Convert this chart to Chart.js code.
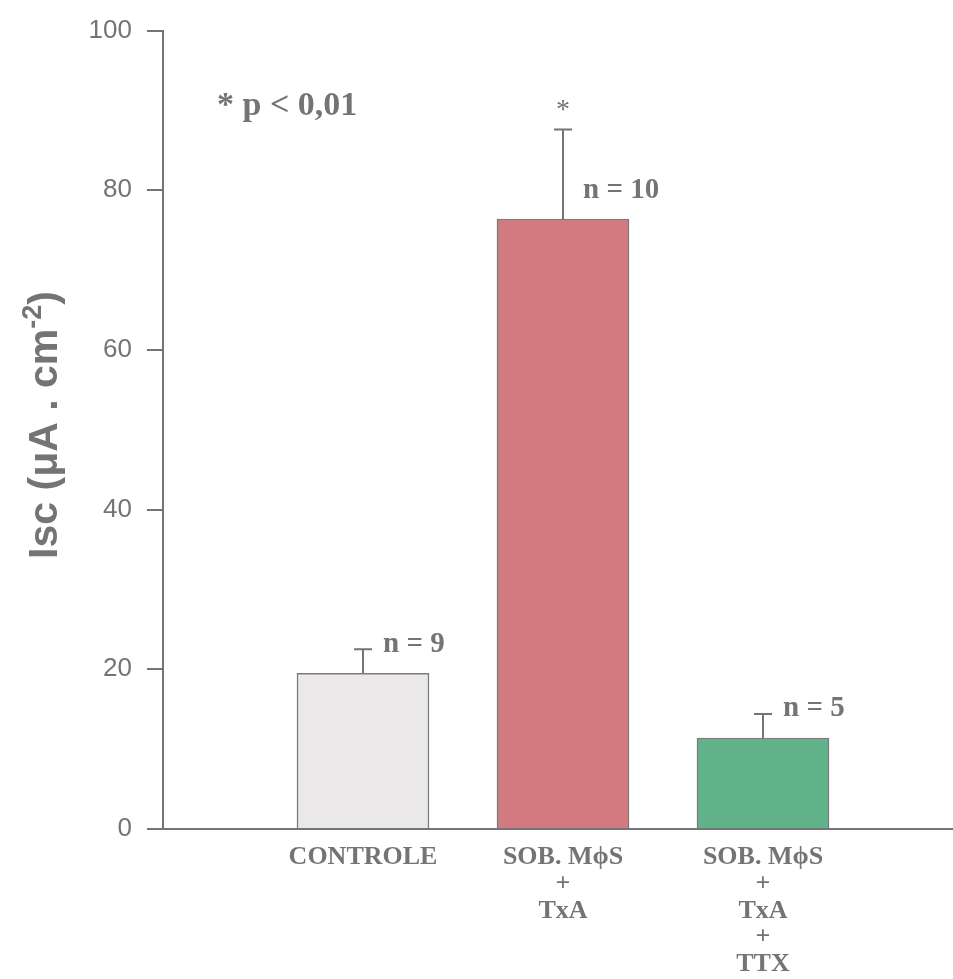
<!DOCTYPE html>
<html lang="pt">
<head>
  <meta charset="UTF-8" />
  <title>Isc</title>
  <script src="https://cdn.jsdelivr.net/npm/chart.js@4"></script>
  <style>
    html, body { margin: 0; padding: 0; background: #fff; }
    #wrap { width: 953px; height: 979px; position: relative; }
  </style>
</head>
<body>
  <div id="wrap"><canvas id="chart"></canvas></div>
  <script>
    // data
    const groups = [
      ['CONTROLE'],
      ['SOB. M\u03D5S', '+', 'TxA'],
      ['SOB. M\u03D5S', '+', 'TxA', '+', 'TTX']
    ];
    const means = [19.5, 76.4, 11.4];
    const sem = [3.0, 11.2, 3.0];
    const nLabels = ['n = 9', 'n = 10', 'n = 5'];
    const starred = [false, true, false];
    const yTicks = [0, 20, 40, 60, 80, 100];
    const barColors = ['#ebe8ea', '#d27a80', '#60b388'];

    const grey = '#747474';

    const extras = {
      id: 'extras',
      afterDatasetsDraw(chart) {
        const ctx = chart.ctx;
        const x = chart.scales.x, y = chart.scales.y;
        ctx.save();
        ctx.strokeStyle = grey;
        ctx.lineWidth = 2;
        ctx.fillStyle = grey;
        means.forEach((m, i) => {
          const px = x.getPixelForValue(i + 1);
          const top = y.getPixelForValue(m);
          const eTop = y.getPixelForValue(m + sem[i]);
          // error bar, upper half only
          ctx.beginPath();
          ctx.moveTo(px, top);
          ctx.lineTo(px, eTop);
          ctx.moveTo(px - 9, eTop);
          ctx.lineTo(px + 9, eTop);
          ctx.stroke();
          ctx.font = 'bold 29px "Liberation Serif"';
          ctx.textAlign = 'left';
          ctx.textBaseline = 'middle';
          ctx.fillText(nLabels[i], px + 20, top - 29);
          if (starred[i]) {
            ctx.font = '28px "Liberation Serif"';
            ctx.textAlign = 'center';
            ctx.fillText('*', px, eTop - 19);
          }
        });
        // significance note
        ctx.font = 'bold 34px "Liberation Serif"';
        ctx.textAlign = 'left';
        ctx.textBaseline = 'middle';
        ctx.fillText('* p < 0,01', 217, 106);

        // rotated y title with superscript
        ctx.translate(57, 425);
        ctx.rotate(-Math.PI / 2);
        const main = 'Isc (\u03BCA . cm';
        const sup = '-2';
        const end = ')';
        ctx.font = 'bold 41px "Liberation Sans"';
        const w1 = ctx.measureText(main).width;
        const w3 = ctx.measureText(end).width;
        ctx.font = 'bold 27px "Liberation Sans"';
        const w2 = ctx.measureText(sup).width;
        let sx = -(w1 + w2 + w3) / 2;
        ctx.textBaseline = 'alphabetic';
        ctx.textAlign = 'left';
        ctx.font = 'bold 41px "Liberation Sans"';
        ctx.fillText(main, sx, 0);
        ctx.font = 'bold 27px "Liberation Sans"';
        ctx.fillText(sup, sx + w1, -16);
        ctx.font = 'bold 41px "Liberation Sans"';
        ctx.fillText(end, sx + w1 + w2, 0);
        ctx.restore();
      }
    };

    new Chart(document.getElementById('chart'), {
      type: 'bar',
      data: {
        datasets: [{
          data: means.map((v, i) => ({ x: i + 1, y: v })),
          backgroundColor: barColors,
          borderColor: '#7a7a7a',
          borderWidth: 1.5,
          barThickness: 132
        }]
      },
      options: {
        responsive: true,
        maintainAspectRatio: false,
        animation: false,
        layout: { padding: { top: 29, right: 0, left: 0, bottom: 0 } },
        plugins: { legend: { display: false }, tooltip: { enabled: false } },
        scales: {
          x: {
            type: 'linear',
            min: 0,
            max: 3.95,
            offset: false,
            afterBuildTicks: (s) => { s.ticks = groups.map((g, i) => ({ value: i + 1 })); },
            afterFit: (s) => { s.height = 150; },
            grid: { display: false, drawTicks: false, offset: false },
            border: { display: true, color: grey, width: 2 },
            ticks: {
              padding: 15,
              color: grey,
              maxRotation: 0,
              font: { family: 'Liberation Serif', weight: 'bold', size: 26, lineHeight: 1.03 },
              callback: (v) => groups[v - 1] || ''
            }
          },
          y: {
            min: 0,
            max: 100,
            afterBuildTicks: (s) => { s.ticks = yTicks.map(v => ({ value: v })); },
            afterFit: (s) => { s.width = 163; },
            grid: { drawOnChartArea: false, drawTicks: true, tickLength: 16, color: grey, lineWidth: 2 },
            border: { display: true, color: grey, width: 2 },
            ticks: {
              padding: 15,
              color: grey,
              font: { family: 'Liberation Sans', size: 26 }
            }
          }
        }
      },
      plugins: [extras]
    });
  </script>
</body>
</html>
